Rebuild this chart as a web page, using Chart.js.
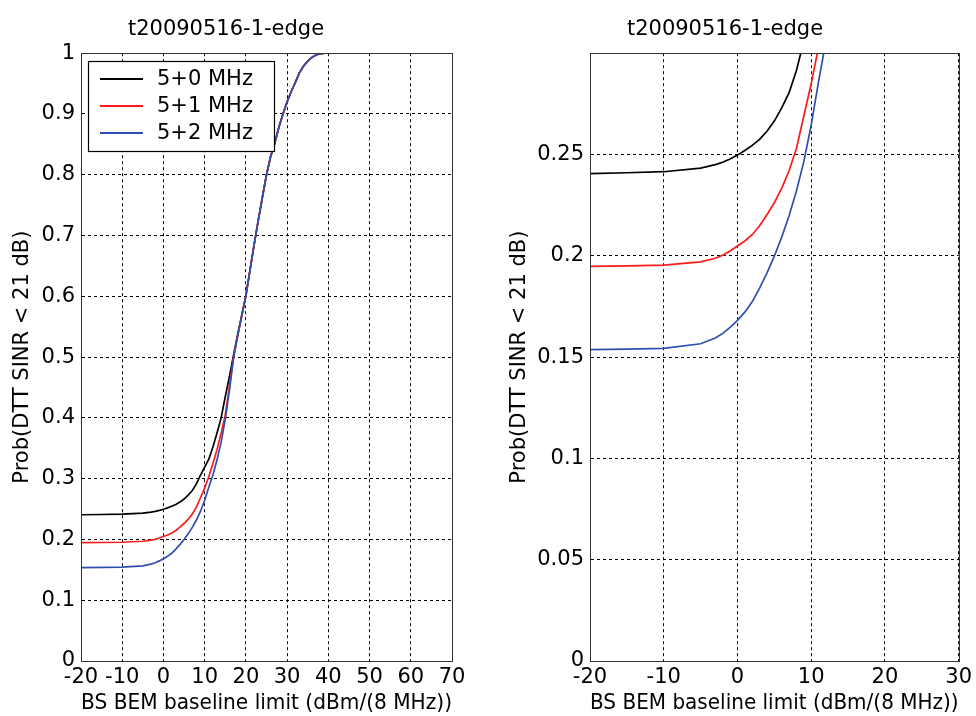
<!DOCTYPE html>
<html>
<head>
<meta charset="utf-8">
<script src="https://cdn.jsdelivr.net/npm/chart.js@4/dist/chart.umd.min.js"></script>
<style>
  html, body { margin: 0; padding: 0; background: #fff; }
  #wrap { position: relative; width: 976px; height: 716px; }
  canvas { position: absolute; top: 0; }
  #left { left: 0; }
  #right { left: 488px; }
</style>
</head>
<body>
<div id="wrap">
  <canvas id="left" width="488" height="716"></canvas>
  <canvas id="right" width="488" height="716"></canvas>
</div>
<script>
// ---- data ----
const chartTitle = 't20090516-1-edge';
const xAxisTitle = 'BS BEM baseline limit (dBm/(8 MHz))';
const yAxisTitle = 'Prob(DTT SINR < 21 dB)';
const seriesLabels = ['5+0 MHz', '5+1 MHz', '5+2 MHz'];

const xValues = [-20,-15,-10,-5,-3,-2,-1,0,1,2,3,4,5,6,7,8,9,10,11,12,13,14,15,16,17,18,19,20,
  21,22,23,24,25,26,27,28,29,30,31,32,33,34,35,36,37,38,39,40,45,50,55,60,65,70];

const series50 = [0.2406,0.2410,0.2415,0.2433,0.2450,0.2462,0.2478,0.2497,0.2520,0.2545,0.2575,0.2615,
  0.2665,0.2730,0.2805,0.2915,0.3060,0.3190,0.3320,0.3520,0.3750,0.4000,0.4350,0.4680,0.5030,0.5370,0.5690,0.6010,
  0.6430,0.6850,0.7250,0.7630,0.8000,0.8300,0.8520,0.8780,0.9000,0.9200,0.9370,0.9520,0.9680,0.9790,0.9870,0.9930,
  0.9970,0.9990,1,1,1,1,1,1,1,1];

const series51 = [0.1948,0.1950,0.1954,0.1970,0.1988,0.2003,0.2024,0.2048,0.2073,0.2104,0.2148,0.2203,
  0.2262,0.2333,0.2420,0.2530,0.2690,0.2849,0.3030,0.3250,0.3480,0.3750,0.4050,0.4520,0.5000,0.5350,0.5680,0.6010,
  0.6430,0.6850,0.7250,0.7630,0.8000,0.8300,0.8520,0.8780,0.9000,0.9200,0.9370,0.9520,0.9680,0.9790,0.9870,0.9930,
  0.9970,0.9990,1,1,1,1,1,1,1,1];

const series52 = [0.1537,0.1539,0.1543,0.1566,0.1594,0.1617,0.1647,0.1681,0.1722,0.1773,0.1840,0.1915,
  0.1998,0.2092,0.2198,0.2320,0.2465,0.2645,0.2860,0.3060,0.3310,0.3600,0.3980,0.4450,0.4980,0.5350,0.5680,0.6010,
  0.6430,0.6850,0.7250,0.7630,0.8000,0.8300,0.8520,0.8780,0.9000,0.9200,0.9370,0.9520,0.9680,0.9790,0.9870,0.9930,
  0.9970,0.9990,1,1,1,1,1,1,1,1];

const leftXTicks = [-20,-10,0,10,20,30,40,50,60,70];
const leftYTicks = [0,0.1,0.2,0.3,0.4,0.5,0.6,0.7,0.8,0.9,1];
const rightXTicks = [-20,-10,0,10,20,30];
const rightYTicks = [0,0.05,0.1,0.15,0.2,0.25];

const seriesColors = ['#000000', '#ff1a1a', '#2f4fb0'];
// ---------------------------------------

const FONT = "'DejaVu Sans', 'Liberation Sans', Arial, sans-serif";

function buildDatasets() {
  const all = [series50, series51, series52];
  return all.map((ys, i) => ({
    label: seriesLabels[i],
    data: xValues.map((x, j) => ({ x: x, y: ys[j] })),
    borderColor: seriesColors[i],
    backgroundColor: seriesColors[i],
    borderWidth: 1.7,
    pointRadius: 0,
    tension: 0,
    fill: false,
    order: 2 - i
  }));
}

const boxPlugin = {
  id: 'box',
  afterDraw(chart) {
    const { ctx, chartArea: a } = chart;
    ctx.save();
    ctx.strokeStyle = '#333';
    ctx.lineWidth = 1;
    ctx.setLineDash([]);
    ctx.strokeRect(Math.round(a.left) + 0.5, Math.round(a.top) + 0.5,
      Math.round(a.right - a.left), Math.round(a.bottom - a.top));
    ctx.restore();
  }
};

const legendPlugin = {
  id: 'boxLegend',
  afterDraw(chart) {
    const { ctx, chartArea: a } = chart;
    const x0 = Math.round(a.left) + 7, y0 = Math.round(a.top) + 8;
    const w = 186, h = 90;
    ctx.save();
    ctx.fillStyle = '#fff';
    ctx.fillRect(x0, y0, w, h);
    ctx.strokeStyle = '#000';
    ctx.lineWidth = 1.2;
    ctx.strokeRect(x0 + 0.5, y0 + 0.5, w, h);
    ctx.font = '21px ' + FONT;
    ctx.textBaseline = 'middle';
    chart.data.datasets.forEach((ds, i) => {
      const yy = y0 + 18 + i * 27;
      ctx.strokeStyle = ds.borderColor;
      ctx.lineWidth = 2;
      ctx.beginPath();
      ctx.moveTo(x0 + 12, yy);
      ctx.lineTo(x0 + 55, yy);
      ctx.stroke();
      ctx.fillStyle = '#000';
      ctx.fillText(ds.label, x0 + 69, yy + 1);
    });
    ctx.restore();
  }
};

function makeChart(id, opts) {
  const ctx = document.getElementById(id).getContext('2d');
  return new Chart(ctx, {
    type: 'line',
    data: { datasets: buildDatasets() },
    plugins: opts.legend ? [boxPlugin, legendPlugin] : [boxPlugin],
    options: {
      responsive: false,
      animation: false,
      devicePixelRatio: 1,
      layout: { padding: { left: 0, right: opts.padRight, top: 0, bottom: 0 } },
      plugins: {
        legend: { display: false },
        tooltip: { enabled: false },
        title: {
          display: true,
          text: chartTitle,
          color: '#000',
          font: { family: FONT, size: 21, weight: 'normal' },
          padding: { top: 17, bottom: 11 }
        }
      },
      scales: {
        x: {
          type: 'linear',
          min: opts.xMin, max: opts.xMax,
          afterBuildTicks: (axis) => { axis.ticks = opts.xTicks.map(v => ({ value: v })); },
          afterFit: (scale) => { scale.height = 55; },
          ticks: {
            color: '#000',
            font: { family: FONT, size: 21 },
            padding: 4,
            maxRotation: 0,
            autoSkip: false,
            callback: (v) => String(v)
          },
          grid: { color: '#000', lineWidth: 1, drawTicks: false },
          border: { display: true, color: '#333', width: 1, dash: [3, 3] },
          title: {
            display: true, text: xAxisTitle, color: '#000',
            font: { family: FONT, size: 21 },
            padding: { top: 0, bottom: 0 }
          }
        },
        y: {
          type: 'linear',
          min: opts.yMin, max: opts.yMax,
          afterBuildTicks: (axis) => { axis.ticks = opts.yTicks.map(v => ({ value: v })); },
          afterFit: (scale) => { scale.width = opts.yWidth; },
          ticks: {
            color: '#000',
            font: { family: FONT, size: 21 },
            padding: 6,
            autoSkip: false,
            callback: (v) => String(v)
          },
          grid: { color: '#000', lineWidth: 1, drawTicks: false },
          border: { display: true, color: '#333', width: 1, dash: [3, 3] },
          title: {
            display: true, text: yAxisTitle, color: '#000',
            font: { family: FONT, size: 21 },
            padding: { top: opts.yTitlePad, bottom: 0 }
          }
        }
      }
    }
  });
}

makeChart('left', {
  legend: true, padRight: 36, yWidth: 81, yTitlePad: 10,
  xMin: -20, xMax: 70, yMin: 0, yMax: 1,
  xTicks: leftXTicks, yTicks: leftYTicks
});

makeChart('right', {
  legend: false, padRight: 14, yWidth: 102, yTitlePad: 19,
  xMin: -20, xMax: 30, yMin: 0, yMax: 0.3,
  xTicks: rightXTicks, yTicks: rightYTicks
});
</script>
</body>
</html>
